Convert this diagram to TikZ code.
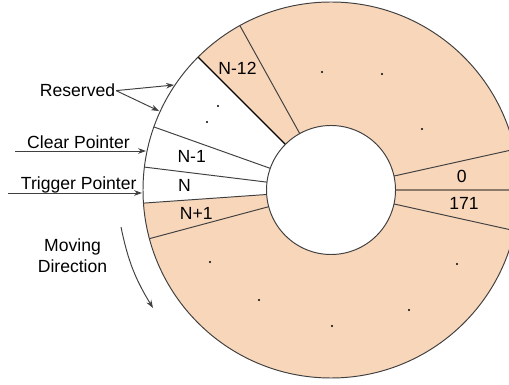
\documentclass[tikz,border=0pt]{standalone}
\usepackage{fontspec}
\setmainfont{Liberation Sans}
\usetikzlibrary{arrows.meta}
\definecolor{peach}{RGB}{248,214,186}
\definecolor{rim}{RGB}{64,64,64}
\definecolor{seam}{RGB}{140,122,106}

\begin{document}
\begin{tikzpicture}[scale=0.2,
  every node/.style={inner sep=0pt, font=\fontsize{10}{12.35}\selectfont},
  lbl/.style={anchor=base},
  rimline/.style={draw=rim, line width=0.55pt},
  ptr/.style={draw=rim, line width=0.55pt, -{Stealth[length=4.5pt,width=3.2pt]}},
  dotmark/.style={fill=black}]
\useasboundingbox (0,0) rectangle (50.9,-38.5);
\clip (0,0) rectangle (50.9,-38.5);
% ring buffer
\begin{scope}[shift={(33.1,-19)}]
\fill [peach] (0,0) circle (18.8);
\fill [white] (0,0) -- (135:18.8) arc (135:184:18.8) -- cycle;
\fill [white] (0,0) circle (6.45);
\foreach \a in {119,160.4,173,184,195,-12.5,12.5}
  \draw [rimline] (\a:6.45) -- (\a:18.8);
\draw [black, line width=0.7pt] (135:6.45) -- (135:18.8);
\draw [seam, line width=0.8pt] (0:6.45) -- (0:18.8);
\draw [rimline] (0,0) circle (18.8);
\draw [rimline] (0,0) circle (6.45);
\end{scope}
% slot labels
\node (n12) [lbl] at (23.75,-7.5) {N-12};
\node (nm1) [lbl] at (19.17,-16.27) {N-1};
\node (n0) [lbl] at (18.45,-19.17) {N};
\node (np1) [lbl] at (19.62,-22.0) {N+1};
\node (zero) [lbl] at (46.17,-18.27) {0};
\node (last) [lbl] at (46.4,-20.93) {171};
% dots
\foreach \p in {(21.8,-10.6),(20.7,-12.2),(32.2,-7.2),(38.2,-7.4),(42.2,-12.9),
  (21.0,-26.2),(25.9,-30.0),(33.2,-32.6),(40.9,-31.0),(45.7,-26.4)}
  \fill [dotmark] \p circle (0.11);
% pointers
\node (reserved) [lbl] at (7.75,-9.67) {Reserved};
\coordinate (resto1) at (17.4,-8.5);
\coordinate (resto2) at (15.9,-11.1);
\draw [ptr] ([xshift=0.6mm,yshift=-0.2mm]reserved.east) -- (resto1);
\draw [ptr] ([xshift=0.6mm,yshift=-0.2mm]reserved.east) -- (resto2);
\node (clear) [lbl] at (7.85,-14.83) {Clear Pointer};
\coordinate (clrfrom) at (1.5,-15.1);
\coordinate (clrto) at (14.6,-15.1);
\draw [ptr] (clrfrom) -- (clrto);
\node (trigger) [lbl] at (7.87,-19.0) {Trigger Pointer};
\coordinate (trgfrom) at (0.8,-19.3);
\coordinate (trgto) at (14.2,-19.3);
\draw [ptr] (trgfrom) -- (trgto);
\node (moving) [align=center] at (7.25,-25.58) {Moving\\Direction};
\coordinate (movfrom) at (12.1,-22.7);
\coordinate (movto) at (15.3,-30.8);
\draw [ptr] (movfrom) to [bend right=10] (movto);
\end{tikzpicture}
\end{document}
